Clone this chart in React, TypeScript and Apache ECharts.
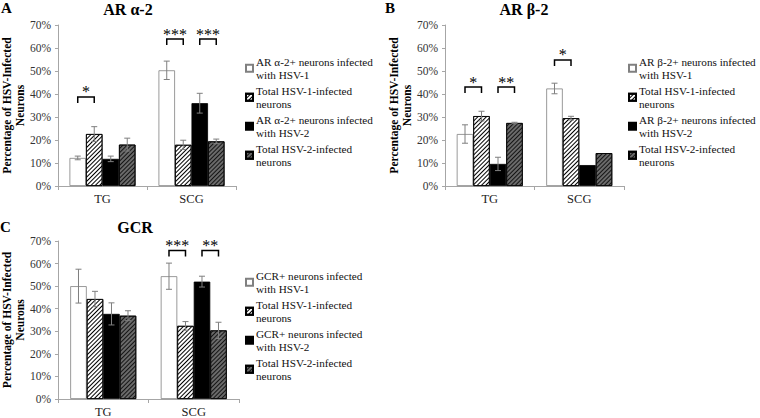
import React, { useEffect, useRef } from "react";
import * as echarts from "echarts";

const SERIF = "Liberation Serif";

const categories = ["TG", "SCG"];
const yTicks = [0, 10, 20, 30, 40, 50, 60, 70];
const panelLetters = ["A", "B", "C"];
const panelTitles = ["AR α-2", "AR β-2", "GCR"];
const yAxisName = "Percentage of HSV-Infected\nNeurons";

const legendA = [
  "AR α-2+ neurons infected\nwith HSV-1",
  "Total HSV-1-infected\nneurons",
  "AR α-2+ neurons infected\nwith HSV-2",
  "Total HSV-2-infected\nneurons",
];
const legendB = [
  "AR β-2+ neurons infected\nwith HSV-1",
  "Total HSV-1-infected\nneurons",
  "AR β-2+ neurons infected\nwith HSV-2",
  "Total HSV-2-infected\nneurons",
];
const legendC = [
  "GCR+ neurons infected\nwith HSV-1",
  "Total HSV-1-infected\nneurons",
  "GCR+ neurons infected\nwith HSV-2",
  "Total HSV-2-infected\nneurons",
];

// Panel A: AR α-2 (values in %, order: TG, SCG)
const aPosHsv1 = [12.2, 50.3];
const aTotalHsv1 = [22.6, 17.9];
const aPosHsv2 = [11.8, 36.0];
const aTotalHsv2 = [18.0, 19.4];
const aErrPosHsv1 = [0.8, 4.0];
const aErrTotalHsv1 = [3.2, 2.0];
const aErrPosHsv2 = [1.2, 4.3];
const aErrTotalHsv2 = [2.8, 1.0];
// [category, fromBar, toBar, value, stars]
const aBrackets = [
  [0, 0, 1, 38.7, 1],
  [1, 0, 1, 63.9, 3],
  [1, 2, 3, 63.9, 3],
];

// Panel B: AR β-2
const bPosHsv1 = [22.6, 42.4];
const bTotalHsv1 = [30.4, 29.5];
const bPosHsv2 = [9.6, 9.1];
const bTotalHsv2 = [27.4, 14.3];
const bErrPosHsv1 = [4.0, 2.3];
const bErrTotalHsv1 = [2.1, 0.8];
const bErrPosHsv2 = [2.9, 0];
const bErrTotalHsv2 = [0.3, 0];
const bBrackets = [
  [0, 0, 1, 43.0, 1],
  [0, 2, 3, 43.0, 2],
  [1, 0, 1, 54.8, 1],
];

// Panel C: GCR
const cPosHsv1 = [50.0, 54.4];
const cTotalHsv1 = [44.3, 32.4];
const cPosHsv2 = [37.7, 52.0];
const cTotalHsv2 = [36.9, 30.4];
const cErrPosHsv1 = [7.5, 5.8];
const cErrTotalHsv1 = [3.4, 1.9];
const cErrPosHsv2 = [4.9, 2.4];
const cErrTotalHsv2 = [2.2, 3.6];
const cBrackets = [
  [1, 0, 1, 65.8, 3],
  [1, 2, 3, 65.8, 2],
];

const BW = 16.5;

const hatchLight = {
  symbol: "rect",
  symbolSize: 1,
  dashArrayX: [1, 0],
  dashArrayY: [0.9, 1.3],
  rotation: -Math.PI / 4,
  color: "#000",
  backgroundColor: "#fff",
};
const hatchDark = {
  symbol: "rect",
  symbolSize: 1,
  dashArrayX: [1, 0],
  dashArrayY: [0.9, 1.3],
  rotation: -Math.PI / 4,
  color: "#151515",
  backgroundColor: "#6a6a6a",
};

const barStyles = [
  { color: "#fff", borderColor: "#808080", borderWidth: 0.8 },
  { color: "#fff", borderColor: "#000", borderWidth: 0.8, decal: hatchLight },
  { color: "#000", borderColor: "#000", borderWidth: 0.8 },
  { color: "#6a6a6a", borderColor: "#000", borderWidth: 0.8, decal: hatchDark },
];

const panels = [
  {
    legend: legendA,
    values: [aPosHsv1, aTotalHsv1, aPosHsv2, aTotalHsv2],
    errors: [aErrPosHsv1, aErrTotalHsv1, aErrPosHsv2, aErrTotalHsv2],
    brackets: aBrackets,
  },
  {
    legend: legendB,
    values: [bPosHsv1, bTotalHsv1, bPosHsv2, bTotalHsv2],
    errors: [bErrPosHsv1, bErrTotalHsv1, bErrPosHsv2, bErrTotalHsv2],
    brackets: bBrackets,
  },
  {
    legend: legendC,
    values: [cPosHsv1, cTotalHsv1, cPosHsv2, cTotalHsv2],
    errors: [cErrPosHsv1, cErrTotalHsv1, cErrPosHsv2, cErrTotalHsv2],
    brackets: cBrackets,
  },
];

const layout = [
  { grid: { left: 54, top: 25, width: 182, height: 161 }, nameGap: 30, legend: { left: 245, top: 48 }, letter: [1, 0], title: [128, 1] },
  { grid: { left: 445, top: 25, width: 179, height: 161 }, nameGap: 32, legend: { left: 628, top: 48 }, letter: [385, 0], title: [524, 1] },
  { grid: { left: 57, top: 241, width: 182, height: 159 }, nameGap: 30, legend: { left: 245, top: 262 }, letter: [0, 219], title: [135, 219] },
];

const errorRender = (params: any, api: any) => {
  const cat = api.value(0);
  const bar = api.value(1);
  const mean = api.value(2);
  const err = api.value(3);
  if (!err) return null;
  const c = api.coord([cat, mean]);
  const x = c[0] + (bar - 1.5) * BW;
  const yh = api.coord([cat, mean + err])[1];
  const yl = api.coord([cat, mean - err])[1];
  const st = { stroke: "#7f7f7f", lineWidth: 1, fill: null };
  return {
    type: "group",
    children: [
      { type: "line", shape: { x1: x, y1: yh, x2: x, y2: yl }, style: st },
      { type: "line", shape: { x1: x - 3, y1: yh, x2: x + 3, y2: yh }, style: st },
      { type: "line", shape: { x1: x - 3, y1: yl, x2: x + 3, y2: yl }, style: st },
    ],
  };
};

const bracketRender = (params: any, api: any) => {
  const cat = api.value(0);
  const b1 = api.value(1);
  const b2 = api.value(2);
  const v = api.value(3);
  const n = api.value(4);
  const c = api.coord([cat, v]);
  const x1 = c[0] + (b1 - 1.5) * BW;
  const x2 = c[0] + (b2 - 1.5) * BW;
  const y = c[1];
  return {
    type: "group",
    children: [
      {
        type: "polyline",
        shape: { points: [[x1, y + 6], [x1, y], [x2, y], [x2, y + 6]] },
        style: { stroke: "#000", lineWidth: 1.5, fill: null },
      },
      {
        type: "text",
        x: (x1 + x2) / 2,
        y: y + 3,
        style: {
          text: "*".repeat(n),
          fontFamily: SERIF,
          fontSize: 16,
          fill: "#000",
          stroke: null,
          lineWidth: 0,
          align: "center",
          verticalAlign: "bottom",
        },
      },
    ],
  };
};

export default function App() {
  const ref = useRef<HTMLDivElement>(null);
  useEffect(() => {
    if (!ref.current) return;
    const chart = echarts.init(ref.current, undefined, { renderer: "svg" });

    const grid: any[] = [];
    const xAxis: any[] = [];
    const yAxis: any[] = [];
    const legend: any[] = [];
    const series: any[] = [];
    const graphic: any[] = [];

    panels.forEach((p, k) => {
      const L = layout[k];
      grid.push({ ...L.grid, containLabel: false });
      xAxis.push({
        gridIndex: k,
        type: "category",
        data: categories,
        axisLine: { show: true, lineStyle: { color: "#a6a6a6", width: 1 } },
        axisTick: { show: true, length: 4, alignWithLabel: false, lineStyle: { color: "#a6a6a6" } },
        axisLabel: { fontFamily: SERIF, fontSize: 12.5, color: "#222", margin: 6 },
        splitLine: { show: false },
      });
      yAxis.push({
        gridIndex: k,
        type: "value",
        min: yTicks[0],
        max: yTicks[yTicks.length - 1],
        interval: yTicks[1] - yTicks[0],
        axisLine: { show: true, lineStyle: { color: "#a6a6a6", width: 1 } },
        axisTick: { show: true, length: 3, lineStyle: { color: "#a6a6a6" } },
        splitLine: { show: false },
        axisLabel: { formatter: "{value}%", fontFamily: SERIF, fontSize: 11.5, color: "#333", margin: 7 },
        name: yAxisName,
        nameLocation: "middle",
        nameRotate: 90,
        nameGap: L.nameGap,
        nameTextStyle: { fontFamily: SERIF, fontWeight: "bold", fontSize: 11.5, lineHeight: 12.5, color: "#000" },
      });
      legend.push({
        data: p.legend,
        orient: "vertical",
        left: L.legend.left,
        top: L.legend.top,
        padding: 0,
        itemGap: -11.5,
        itemWidth: 7,
        itemHeight: 7,
        icon: "rect",
        selectedMode: false,
        textStyle: {
          fontFamily: SERIF,
          fontSize: 11.2,
          lineHeight: 13.5,
          color: "#111",
          padding: [13.5, 0, 0, -2],
        },
      });
      p.values.forEach((vals, i) => {
        series.push({
          type: "bar",
          name: p.legend[i],
          xAxisIndex: k,
          yAxisIndex: k,
          data: vals,
          barWidth: BW,
          barGap: "0%",
          itemStyle: barStyles[i],
          emphasis: { disabled: true },
          z: 2,
        });
      });
      const errData: number[][] = [];
      p.errors.forEach((errs, i) => {
        errs.forEach((e, c) => errData.push([c, i, p.values[i][c], e]));
      });
      series.push({
        type: "custom",
        xAxisIndex: k,
        yAxisIndex: k,
        renderItem: errorRender,
        data: errData,
        encode: { x: 0, y: 2 },
        itemStyle: { color: "#7f7f7f" },
        z: 4,
        silent: true,
      });
      series.push({
        type: "custom",
        xAxisIndex: k,
        yAxisIndex: k,
        renderItem: bracketRender,
        data: p.brackets,
        encode: { x: 0, y: 3 },
        itemStyle: { color: "#000" },
        z: 5,
        silent: true,
        clip: false,
      });
      graphic.push({
        type: "text",
        x: L.letter[0],
        y: L.letter[1],
        style: { text: panelLetters[k], fontFamily: SERIF, fontWeight: "bold", fontSize: 15, fill: "#000", align: "left", verticalAlign: "top" },
      });
      graphic.push({
        type: "text",
        x: L.title[0],
        y: L.title[1],
        style: { text: panelTitles[k], fontFamily: SERIF, fontWeight: "bold", fontSize: 16, fill: "#000", align: "center", verticalAlign: "top" },
      });
    });

    chart.setOption({
      animation: false,
      backgroundColor: "#fff",
      grid,
      xAxis,
      yAxis,
      legend,
      series,
      graphic,
    });
    return () => chart.dispose();
  }, []);
  return <div ref={ref} style={{ position: "absolute", left: 0, top: 0, width: 760, height: 418 }} />;
}
